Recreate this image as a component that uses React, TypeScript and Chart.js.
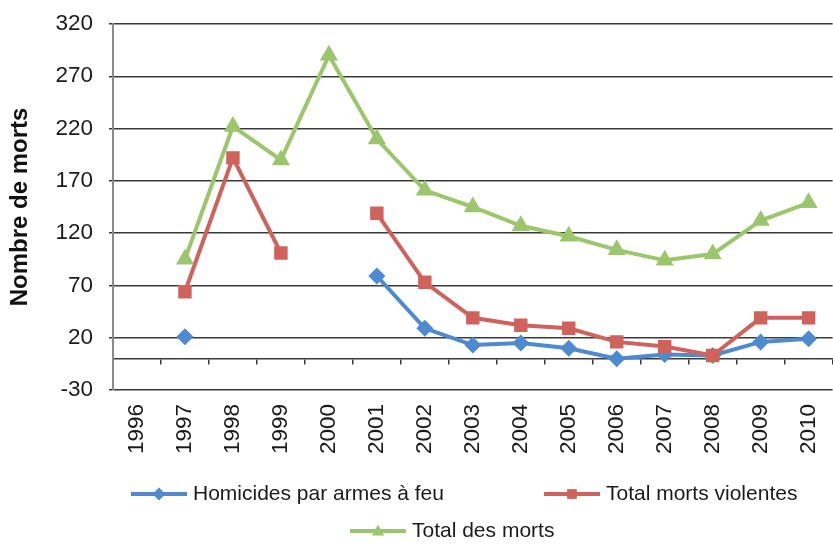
import React, { useEffect, useRef } from 'react';
import { Chart, registerables } from 'chart.js';

Chart.register(...registerables);

const years = ['1996', '1997', '1998', '1999', '2000', '2001', '2002', '2003', '2004', '2005', '2006', '2007', '2008', '2009', '2010'];
const homicides = [null, 21, null, null, null, 79, 29, 13, 15, 10, 0, 4, 3, 16, 19];
const mortsViolentes = [null, 64, 192, 101, null, 139, 73, 39, 32, 29, 16, 11.5, 3, 39, 39];
const totalMorts = [null, 95, 222, 190, 290, 210, 161, 145, 127, 117, 104, 94, 100, 132, 149];
const yTickValues = [-30, 20, 70, 120, 170, 220, 270, 320];
const seriesNames = ['Homicides par armes à feu', 'Total morts violentes', 'Total des morts'];
const seriesColors = ['#4D8AD0', '#D0625C', '#9CC66C'];
const axisTitle = 'Nombre de morts';

const FONT = "'Liberation Sans', Arial, sans-serif";

function drawMarker(ctx: CanvasRenderingContext2D, style: string, x: number, y: number, r: number, color: string) {
  ctx.save();
  ctx.fillStyle = color;
  ctx.beginPath();
  if (style === 'rectRot') {
    ctx.moveTo(x, y - r);
    ctx.lineTo(x + r, y);
    ctx.lineTo(x, y + r);
    ctx.lineTo(x - r, y);
  } else if (style === 'rect') {
    ctx.rect(x - r * 0.75, y - r * 0.75, r * 1.5, r * 1.5);
  } else {
    ctx.moveTo(x, y - r);
    ctx.lineTo(x + r * 0.95, y + r * 0.7);
    ctx.lineTo(x - r * 0.95, y + r * 0.7);
  }
  ctx.closePath();
  ctx.fill();
  ctx.restore();
}

const legendRows = [[0, 1], [2]];
const legendRowY = [494, 531];
const legendRowX = [[131, 544], [350]];

const customLegend = {
  id: 'customLegend',
  afterDraw(chart: any) {
    const ctx: CanvasRenderingContext2D = chart.ctx;
    const ds = chart.data.datasets;
    ctx.save();
    ctx.font = `21px ${FONT}`;
    ctx.textBaseline = 'middle';
    ctx.textAlign = 'left';
    legendRows.forEach((row, ri) => {
      row.forEach((di, ci) => {
        const d = ds[di];
        const x = legendRowX[ri][ci];
        const y = legendRowY[ri];
        ctx.strokeStyle = d.borderColor;
        ctx.lineWidth = 4;
        ctx.beginPath();
        ctx.moveTo(x, y);
        ctx.lineTo(x + 56, y);
        ctx.stroke();
        drawMarker(ctx, d.pointStyle, x + 28, y, 6.5, d.borderColor);
        ctx.fillStyle = '#1a1a1a';
        ctx.fillText(d.label, x + 62, y);
      });
    });
    ctx.restore();
  },
};

export default function App() {
  const ref = useRef<HTMLCanvasElement | null>(null);
  useEffect(() => {
    if (!ref.current) return;
    const mk = (i: number, data: (number | null)[], style: string, radius: number, order: number) => ({
      label: seriesNames[i],
      data,
      borderColor: seriesColors[i],
      backgroundColor: seriesColors[i],
      pointBackgroundColor: seriesColors[i],
      pointBorderColor: seriesColors[i],
      pointBorderWidth: 0,
      borderWidth: 4,
      pointStyle: style,
      pointRadius: radius,
      spanGaps: false,
      tension: 0,
      order,
    });
    const chart = new Chart(ref.current, {
      type: 'line',
      data: {
        labels: years,
        datasets: [
          mk(0, homicides, 'rectRot', 8.5, 3),
          mk(1, mortsViolentes, 'rect', 9.5, 2),
          mk(2, totalMorts, 'triangle', 10.5, 1),
        ],
      },
      plugins: [customLegend],
      options: {
        animation: false,
        responsive: false,
        devicePixelRatio: 1,
        layout: { padding: { top: 24, right: 11, bottom: 64, left: 0 } },
        plugins: {
          legend: { display: false },
          tooltip: { enabled: false },
        },
        scales: {
          x: {
            type: 'category',
            position: 'bottom',
            offset: true,
            grid: { display: false, drawTicks: false },
            border: { display: false },
            ticks: {
              autoSkip: false,
              minRotation: 90,
              maxRotation: 90,
              padding: 14,
              color: '#1a1a1a',
              font: { family: FONT, size: 22.5 },
            },
            afterFit: (s: any) => {
              s.height = 90;
            },
          },
          x2: {
            type: 'category',
            axis: 'x',
            position: { y: 0 },
            offset: true,
            grid: { drawOnChartArea: false, drawTicks: true, tickLength: 5, color: '#3a3a3a', lineWidth: 1.5, offset: true },
            border: { display: true, color: '#3a3a3a', width: 1.5 },
            ticks: { display: false },
          },
          y: {
            min: -30,
            max: 320,
            afterBuildTicks: (s: any) => {
              s.ticks = yTickValues.map((v) => ({ value: v }));
            },
            afterFit: (s: any) => {
              s.width = 113;
              s.paddingTop = 0;
              s.paddingBottom = 0;
            },
            grid: { color: '#3a3a3a', lineWidth: 1.5, drawTicks: true, tickLength: 4 },
            border: { color: '#8a8a8a', width: 2 },
            ticks: {
              padding: 16,
              color: '#1a1a1a',
              font: { family: FONT, size: 22.5 },
            },
            title: {
              display: true,
              text: axisTitle,
              color: '#111',
              font: { family: FONT, size: 24, weight: 'bold' },
              padding: { top: 6, bottom: 0 },
            },
          },
        },
      } as any,
    });
    return () => chart.destroy();
  }, []);
  return (
    <div style={{ position: 'absolute', left: 0, top: 0, width: 833, height: 544, overflow: 'hidden', background: '#fff' }}>
      <canvas ref={ref} width={850} height={544} style={{ display: 'block' }} />
    </div>
  );
}
